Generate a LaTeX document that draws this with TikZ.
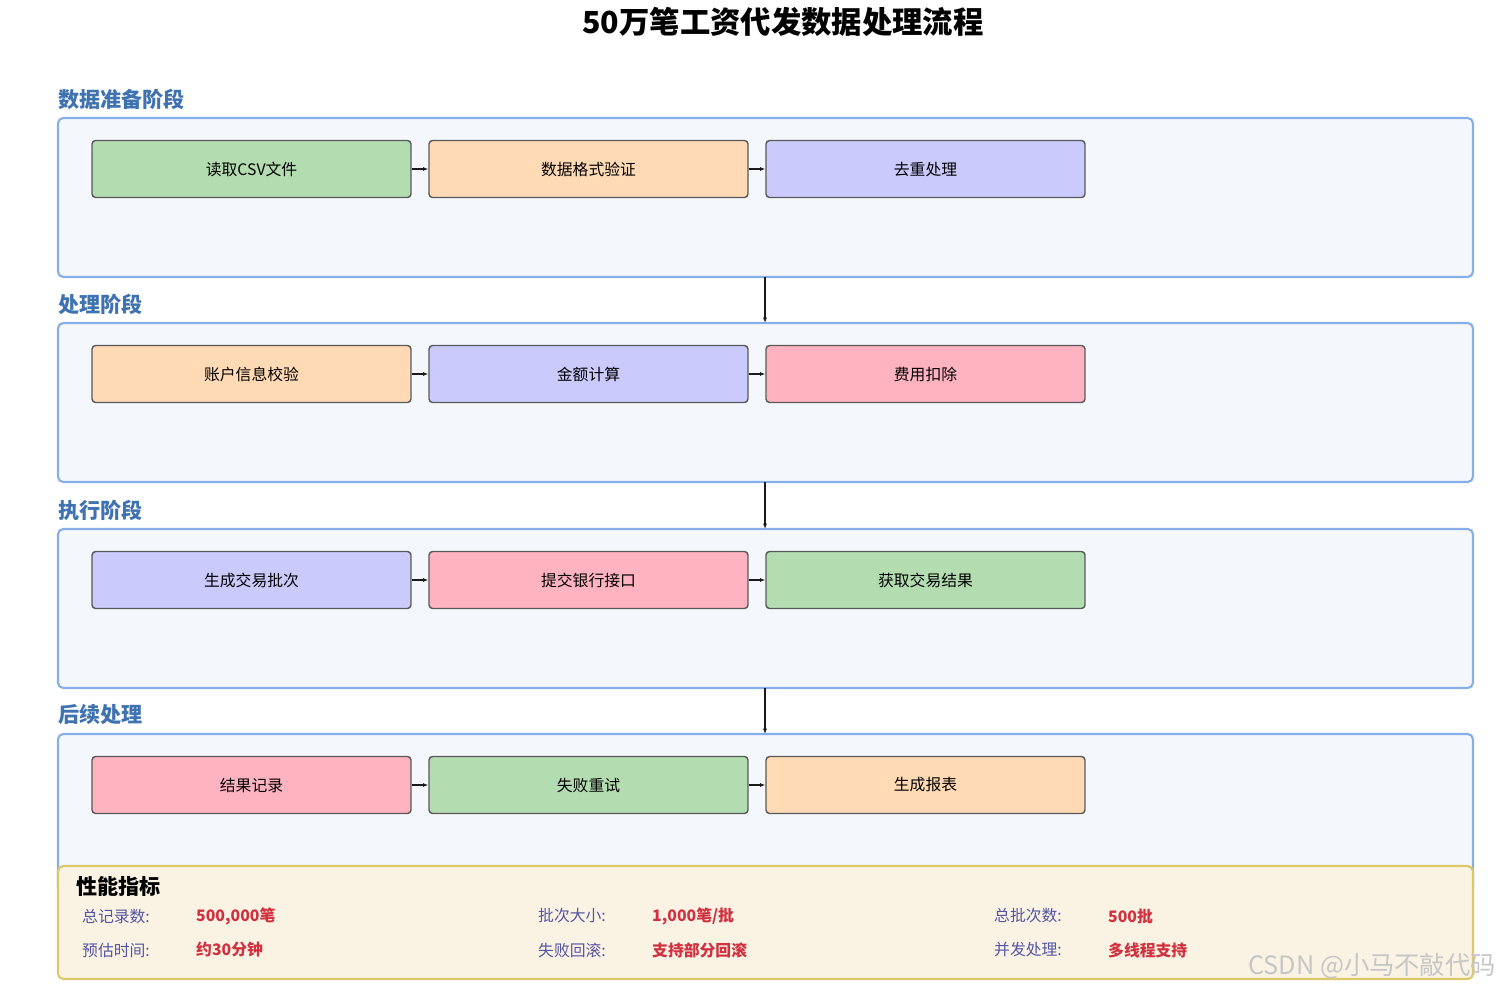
\documentclass[tikz,border=0pt]{standalone}
\usepackage{fontspec}
\setmainfont{Noto Sans CJK SC}
\usetikzlibrary{arrows.meta}
\definecolor{cgreen}{HTML}{B3DDB0}
\definecolor{corange}{HTML}{FFDAB5}
\definecolor{cviolet}{HTML}{CACAFD}
\definecolor{cpink}{HTML}{FFB3C1}
\definecolor{panelline}{HTML}{86AEE8}
\definecolor{panelfill}{HTML}{F4F8FD}
\definecolor{stagetext}{HTML}{3F72B0}
\definecolor{perffill}{HTML}{FAF3E4}
\definecolor{perfline}{HTML}{DCC868}
\definecolor{keytext}{HTML}{5555A5}
\definecolor{valtext}{HTML}{D0303F}
\tikzset{
  panel/.style={draw=panelline, line width=1.2pt, fill=panelfill, rounded corners=3pt},
  stage/.style={anchor=west, text=stagetext, font=\large\bfseries},
  task/.style={draw=gray!70!black, line width=0.8pt, rounded corners=2pt, minimum width=6.38cm, minimum height=1.14cm, font=\small},
  flow/.style={-{Latex[length=3pt]}, gray!20!black, line width=0.6pt},
  key/.style={anchor=west, text=keytext, font=\small},
  val/.style={anchor=west, text=valtext, font=\small\bfseries}
}
\begin{document}
\begin{tikzpicture}[x=0.02cm, y=-0.02cm]
    \useasboundingbox (0,0) rectangle (1505,994);
    \node[font=\LARGE\bfseries] (title) at (783,22) {50万笔工资代发数据处理流程};
    % stages
    \foreach \i/\top/\name in {1/118/数据准备阶段, 2/323/处理阶段, 3/529/执行阶段, 4/734/后续处理} {
        \node[stage] (lbl\i) at (52,\top-19) {\name};
        \draw[panel] (58,\top) rectangle (1473,\top+159);
        \coordinate (ptop\i) at (765,\top);
        \coordinate (pbot\i) at (765,\top+159);
    }
    \foreach \i/\top/\a/\ca/\b/\cb/\c/\cc in {
        1/118/读取CSV文件/cgreen/数据格式验证/corange/去重处理/cviolet,
        2/323/账户信息校验/corange/金额计算/cviolet/费用扣除/cpink,
        3/529/生成交易批次/cviolet/提交银行接口/cpink/获取交易结果/cgreen,
        4/734/结果记录/cpink/失败重试/cgreen/生成报表/corange} {
        \node[task, fill=\ca] (s\i a) at (251.5,\top+51) {\a};
        \node[task, fill=\cb] (s\i b) at (588.5,\top+51) {\b};
        \node[task, fill=\cc] (s\i c) at (925.5,\top+51) {\c};
        \draw[flow] (s\i a) -- (s\i b);
        \draw[flow] (s\i b) -- (s\i c);
    }
    \draw[flow] (pbot1) -- (ptop2);
    \draw[flow] (pbot2) -- (ptop3);
    \draw[flow] (pbot3) -- (ptop4);
    % metrics
    \draw[draw=perfline, line width=1.2pt, fill=perffill, rounded corners=3pt] (58,866) rectangle (1473,979);
    \node[anchor=west, font=\large\bfseries] (perf) at (70,886) {性能指标};
    \node[key] (k1) at (76,916) {总记录数:};
    \node[val] (v1) at (190,916) {500,000笔};
    \node[key] (k2) at (532,916) {批次大小:};
    \node[val] (v2) at (646,916) {1,000笔/批};
    \node[key] (k3) at (988,916) {总批次数:};
    \node[val] (v3) at (1102,916) {500批};
    \node[key] (k4) at (76,950) {预估时间:};
    \node[val] (v4) at (190,950) {约30分钟};
    \node[key] (k5) at (532,950) {失败回滚:};
    \node[val] (v5) at (646,950) {支持部分回滚};
    \node[key] (k6) at (988,950) {并发处理:};
    \node[val] (v6) at (1102,950) {多线程支持};
    \node[anchor=east, text=gray!45, font=\Large] (mark) at (1502,966) {CSDN @小马不敲代码};
\end{tikzpicture}
\end{document}
